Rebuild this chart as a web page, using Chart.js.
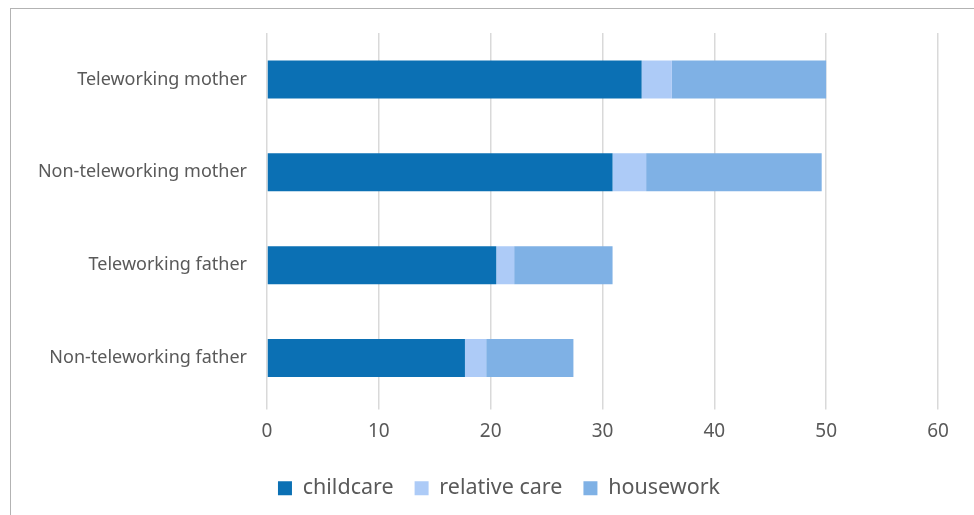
<!DOCTYPE html>
<html>
<head>
<meta charset="utf-8">
<script src="https://cdn.jsdelivr.net/npm/chart.js@4.4.1/dist/chart.umd.min.js"></script>
<style>
  html, body { margin: 0; padding: 0; background: #fff; }
  #wrap { position: relative; width: 974px; height: 515px; overflow: hidden; }
  #frame { position: absolute; left: 10px; top: 8px; width: 1100px; height: 700px; border: 1.5px solid #b3b3b3; }
  canvas { position: absolute; left: 0; top: 0; }
</style>
</head>
<body>
<div id="wrap">
  <div id="frame"></div>
  <canvas id="chart" width="974" height="540"></canvas>
</div>
<script>
const categories = ['Teleworking mother', 'Non-teleworking mother', 'Teleworking father', 'Non-teleworking father'];
const childcare = [33.5, 30.9, 20.5, 17.7];
const relativeCare = [2.7, 3.0, 1.6, 1.9];
const housework = [13.8, 15.7, 8.8, 7.8];
const xTicks = [0, 10, 20, 30, 40, 50, 60];

const FONT = "'Noto Sans', sans-serif";
const TEXT = '#595959';

// push the legend a bit to the right, like the original
const shiftLegend = {
    id: 'shiftLegend',
    afterLayout(chart) {
        chart.legend.left += 60;
    }
};

const ctx = document.getElementById('chart');
const chart = new Chart(ctx, {
    type: 'bar',
    data: {
        labels: categories,
        datasets: [
            { label: 'childcare', data: childcare, backgroundColor: '#0b70b4' },
            { label: 'relative care', data: relativeCare, backgroundColor: '#adcbf7' },
            { label: 'housework', data: housework, backgroundColor: '#7fb1e5' }
        ]
    },
    options: {
        indexAxis: 'y',
        responsive: false,
        animation: false,
        layout: { padding: { top: 33, right: 36, bottom: 31, left: 0 } },
        datasets: {
            bar: { categoryPercentage: 1, barPercentage: 0.41, borderWidth: 0 }
        },
        scales: {
            x: {
                stacked: true,
                min: 0,
                max: 60,
                afterBuildTicks: scale => { scale.ticks = xTicks.map(v => ({ value: v })); },
                afterFit: scale => { scale.height = 52; },
                grid: { color: '#d9d9d9', lineWidth: 1.5, tickLength: 5, drawTicks: true },
                border: { display: false },
                ticks: { color: TEXT, font: { family: FONT, size: 19 }, padding: 11 }
            },
            y: {
                stacked: true,
                afterFit: scale => { scale.width = 267; },
                grid: { display: false },
                border: { display: false },
                ticks: { color: TEXT, font: { family: FONT, size: 18 }, padding: 12 }
            }
        },
        plugins: {
            legend: {
                position: 'bottom',
                labels: {
                    color: TEXT,
                    font: { family: FONT, size: 21.5 },
                    boxWidth: 14,
                    boxHeight: 14,
                    padding: 21
                }
            },
            tooltip: { enabled: false }
        }
    },
    plugins: [shiftLegend]
});
</script>
</body>
</html>
